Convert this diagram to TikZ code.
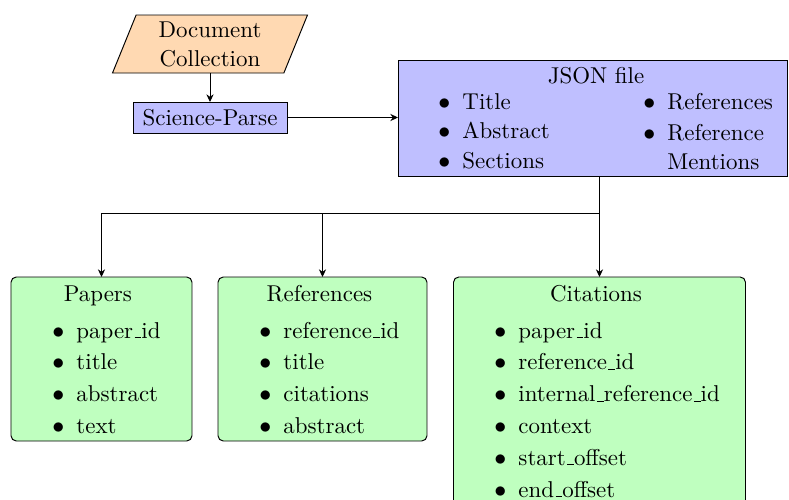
\documentclass[tikz,border=0pt]{standalone}
\usetikzlibrary{shapes.geometric,arrows.meta}
\newcommand\ulin{\leavevmode\kern.06em\vbox{\hrule width.3em}}
\newcommand\bitem{\llap{$\bullet$\hspace{5pt}}}
\tikzset{
  sz/.style 2 args={minimum width=#1*0.416667pt, minimum height=#2*0.416667pt},
  txt/.style={font=\fontsize{9.55pt}{12.1pt}\selectfont},
  box/.style={draw, inner sep=0pt, outer sep=0pt, txt},
  bluebox/.style={box, fill=blue!25},
  greenbox/.style={box, fill=green!25, rounded corners=2.2pt},
  peachbox/.style={draw, fill=orange!30, trapezium, trapezium left angle=70,
    trapezium right angle=110, trapezium stretches=true, inner sep=0pt, align=center, txt},
  itm/.style={anchor=base west, inner sep=0pt, txt},
  ttl/.style={anchor=base, inner sep=0pt, txt},
  arr/.style={-{Stealth[length=3.2pt,width=3pt]}},
}
\begin{document}
\begin{tikzpicture}[x=0.416667pt,y=-0.416667pt]
\useasboundingbox (0,0) rectangle (789,500);

% top part
\node[peachbox, sz={196}{58}] (doc) at (210,44) {Document\\Collection};
\node[bluebox, sz={154}{31}] (sp) at (210,117.5) {Science-Parse};
\node[bluebox, sz={389}{116}] (json) at (592.5,118) {};

% JSON contents
\node[ttl] (jt) at (596,83.5) {JSON file};
\node[itm] (j1) at (462,109.5) {\bitem Title};
\node[itm] (j2) at (462,138.5) {\bitem Abstract};
\node[itm] (j3) at (462,168) {\bitem Sections};
\node[itm] (j4) at (667,109.5) {\bitem References};
\node[itm] (j5) at (667,140) {\bitem Reference};
\node[itm] (j6) at (667,169) {Mentions};

% bottom boxes
\node[greenbox, sz={181}{164}] (pap) at (101.5,359) {};
\node[greenbox, sz={209}{164}] (ref) at (322.5,359) {};
\node[greenbox, sz={292}{243}] (cit) at (599.5,398.5) {};

\node[ttl] (pt) at (98,301) {Papers};
\node[itm] (p1) at (76,338) {\bitem paper\ulin id};
\node[itm] (p2) at (76,369.8) {\bitem title};
\node[itm] (p3) at (76,401.6) {\bitem abstract};
\node[itm] (p4) at (76,433.4) {\bitem text};

\node[ttl] (rt) at (319.5,301) {References};
\node[itm] (r1) at (283,338) {\bitem reference\ulin id};
\node[itm] (r2) at (283,369.8) {\bitem title};
\node[itm] (r3) at (283,401.6) {\bitem citations};
\node[itm] (r4) at (283,433.4) {\bitem abstract};

\node[ttl] (ct) at (596,301) {Citations};
\node[itm] (c1) at (518,338) {\bitem paper\ulin id};
\node[itm] (c2) at (518,369.8) {\bitem reference\ulin id};
\node[itm] (c3) at (518,401.6) {\bitem internal\ulin reference\ulin id};
\node[itm] (c4) at (518,433.4) {\bitem context};
\node[itm] (c5) at (518,465.2) {\bitem start\ulin offset};
\node[itm] (c6) at (518,497) {\bitem end\ulin offset};

% connectors
\draw[arr] (doc.south -| sp.north) -- (sp.north);
\draw[arr] (sp.east) -- (sp.east -| json.west);
\coordinate (bus) at (0,213);
\coordinate (jb) at (cit.north |- json.south);
\draw[arr] (jb) -- (cit.north);
\draw[arr] (jb) -- (jb |- bus) -| (pap.north);
\draw[arr] (ref.north |- bus) -- (ref.north);
\end{tikzpicture}
\end{document}
